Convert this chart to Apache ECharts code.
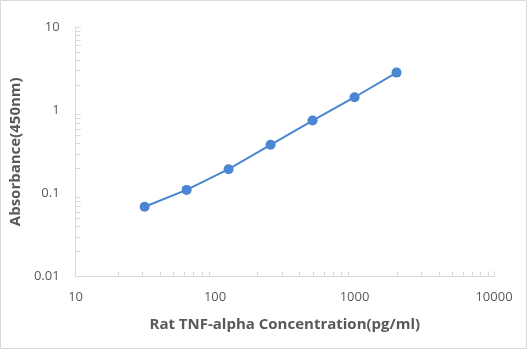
<!DOCTYPE html>
<html>
<head>
<meta charset="utf-8">
<script src="https://cdn.jsdelivr.net/npm/echarts@6/dist/echarts.min.js"></script>
<style>
  html, body { margin: 0; padding: 0; background: #fff; }
  #chart { width: 528px; height: 350px; }
</style>
</head>
<body>
<div id="chart"></div>
<script>
// Standard curve: concentration (pg/ml) vs absorbance at 450 nm
const concentrations = [31.25, 62.5, 125, 250, 500, 1000, 2000];
const absorbances = [0.069, 0.110, 0.195, 0.383, 0.75, 1.43, 2.83];

const xTickLabels = ['10', '100', '1000', '10000'];
const yTickLabels = ['0.01', '0.1', '1', '10'];

// Minor tick positions (2..9 within each decade, plus axis ends)
const xMinorTicks = [20, 30, 40, 50, 60, 70, 80, 90,
  200, 300, 400, 500, 600, 700, 800, 900,
  2000, 3000, 4000, 5000, 6000, 7000, 8000, 9000, 10000];
const yMinorTicks = [0.02, 0.03, 0.04, 0.05, 0.06, 0.07, 0.08, 0.09,
  0.2, 0.3, 0.4, 0.5, 0.6, 0.7, 0.8, 0.9,
  2, 3, 4, 5, 6, 7, 8, 9, 10];

const X_MIN = 10, X_MAX = 10000, Y_MIN = 0.01, Y_MAX = 10;
const axisGray = '#d9d9d9';
const textGray = '#595959';
const lineBlue = '#4a86d2';
const fontFamily = '"Open Sans", "Noto Sans", sans-serif';

function labelFor(list) {
  return function (v) {
    const exp = Math.round(Math.log10(v));
    const idx = list.findIndex(s => Math.round(Math.log10(parseFloat(s))) === exp);
    return idx >= 0 ? list[idx] : '';
  };
}

const chart = echarts.init(document.getElementById('chart'), null, { renderer: 'canvas' });

chart.setOption({
  backgroundColor: '#ffffff',
  animation: false,
  graphic: [{
    type: 'rect',
    shape: { x: 0.5, y: 0.5, width: 526, height: 348 },
    style: { fill: 'none', stroke: axisGray, lineWidth: 1 },
    silent: true,
    z: -10
  }],
  grid: { left: 74, right: 34, top: 27, bottom: 73.5, containLabel: false },
  xAxis: {
    type: 'log',
    logBase: 10,
    min: X_MIN,
    max: X_MAX,
    name: 'Rat TNF-alpha Concentration(pg/ml)',
    nameLocation: 'middle',
    nameGap: 41,
    nameTextStyle: { color: textGray, fontSize: 15, fontWeight: 'bold', fontFamily },
    axisLine: { show: true, lineStyle: { color: axisGray, width: 1 } },
    axisTick: { show: false },
    splitLine: { show: false },
    axisLabel: {
      color: textGray, fontSize: 13, fontFamily, margin: 14,
      formatter: labelFor(xTickLabels)
    }
  },
  yAxis: {
    type: 'log',
    logBase: 10,
    min: Y_MIN,
    max: Y_MAX,
    name: 'Absorbance(450nm)',
    nameLocation: 'middle',
    nameGap: 49,
    nameTextStyle: { color: textGray, fontSize: 15, fontWeight: 'bold', fontFamily },
    axisLine: { show: true, onZero: false, lineStyle: { color: axisGray, width: 1 } },
    axisTick: { show: false },
    splitLine: { show: false },
    axisLabel: {
      color: textGray, fontSize: 13, fontFamily, margin: 16,
      formatter: labelFor(yTickLabels)
    }
  },
  series: [
    {
      // minor ticks along the x axis, pointing into the plot
      type: 'custom',
      silent: true,
      z: 1,
      data: xMinorTicks.map(v => [v, Y_MIN]),
      renderItem: function (params, api) {
        const p = api.coord([api.value(0), api.value(1)]);
        return {
          type: 'line',
          shape: { x1: Math.round(p[0]) + 0.5, y1: p[1], x2: Math.round(p[0]) + 0.5, y2: p[1] - 5 },
          style: { stroke: axisGray, lineWidth: 1 }
        };
      }
    },
    {
      // minor ticks along the y axis, pointing into the plot
      type: 'custom',
      silent: true,
      z: 1,
      data: yMinorTicks.map(v => [X_MIN, v]),
      renderItem: function (params, api) {
        const p = api.coord([api.value(0), api.value(1)]);
        return {
          type: 'line',
          shape: { x1: p[0], y1: Math.round(p[1]) + 0.5, x2: p[0] + 5, y2: Math.round(p[1]) + 0.5 },
          style: { stroke: axisGray, lineWidth: 1 }
        };
      }
    },
    {
      type: 'line',
      data: concentrations.map((c, i) => [c, absorbances[i]]),
      symbol: 'circle',
      symbolSize: 10,
      z: 5,
      lineStyle: { color: lineBlue, width: 2 },
      itemStyle: { color: lineBlue },
      emphasis: { disabled: true }
    }
  ]
});
</script>
</body>
</html>
